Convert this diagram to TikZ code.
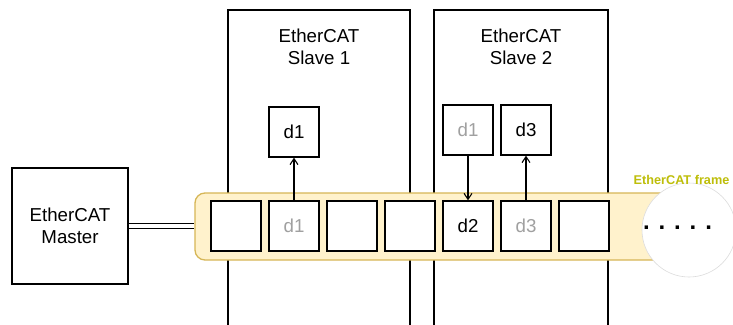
\documentclass[tikz,border=0pt]{standalone}
\usepackage{fontspec}
\setmainfont{Liberation Sans}
\usetikzlibrary{arrows.meta}
\definecolor{framefill}{HTML}{FFF2CC}
\definecolor{framedraw}{HTML}{D6B656}
\definecolor{ghost}{HTML}{A0A0A0}
\definecolor{framelabel}{RGB}{190,190,10}
\definecolor{ringgray}{HTML}{DCDCDC}
\tikzset{
  every node/.style={font=\fontsize{18.7}{22.4}\selectfont},
  unit/.style={draw, line width=1.3pt, fill=white, inner sep=0pt,
    minimum width=50pt, minimum height=50pt},
  device/.style={draw, line width=1.3pt, inner sep=0pt, align=center},
  faded/.style={text=ghost},
  flow/.style={line width=1.2pt, -{Straight Barb[length=6pt,width=8pt,line width=1.1pt]}},
}
\begin{document}
\begin{tikzpicture}[x=1pt,y=-1pt]
\clip (0,0) rectangle (733,324);
\fill[white] (0,0) rectangle (733,324);

% slaves (open towards the bottom of the picture)
\node[device, minimum width=182pt, minimum height=340pt] (s1) at (319,180) {};
\node[device, minimum width=174pt, minimum height=340pt] (s2) at (521,180) {};
\node[inner sep=0pt, align=center] (s1t) at (319,47) {EtherCAT\\Slave 1};
\node[inner sep=0pt, align=center] (s2t) at (521,47) {EtherCAT\\Slave 2};

% master
\node[device, minimum width=116pt, minimum height=116pt] (m) at (70,226) {EtherCAT\\Master};

% frame
\node[draw=framedraw, fill=framefill, line width=1.3pt, rounded corners=10pt,
  minimum width=505pt, minimum height=67pt] (fr) at (447.5,226.5) {};

% slots in the frame
\node[unit] (f1) at (236,226) {};
\node[unit, faded] (f2) at (294,226) {d1};
\node[unit] (f3) at (352,226) {};
\node[unit] (f4) at (410,226) {};
\node[unit] (f5) at (468,226) {d2};
\node[unit, faded] (f6) at (526,226) {d3};
\node[unit] (f7) at (584,226) {};

% data inside the slaves
\node[unit] (a1) at (294,132) {d1};
\node[unit, faded] (b1) at (468,130) {d1};
\node[unit] (b3) at (526,130) {d3};

% link master -> frame
\draw[line width=1.1pt, double, double distance=3.7pt] (m.east) -- (m.east -| fr.west);

% data exchange
\draw[flow] (f2.north) -- (a1.south);
\draw[flow] (b1.south) -- (f5.north);
\draw[flow] (f6.north) -- (b3.south);

% continuation of the frame
\node[circle, draw=ringgray, line width=0.6pt, fill=white, minimum size=94pt, inner sep=0pt] (more) at (689,230) {};
\node[anchor=base, inner sep=0pt, font=\fontsize{24}{28}\selectfont\bfseries] (dots) at (677.5,229) {. . . . .};
\node[inner sep=0pt, text=framelabel, font=\fontsize{12.7}{15}\selectfont\bfseries] (lbl) at (681.5,180) {EtherCAT frame};
\end{tikzpicture}
\end{document}
